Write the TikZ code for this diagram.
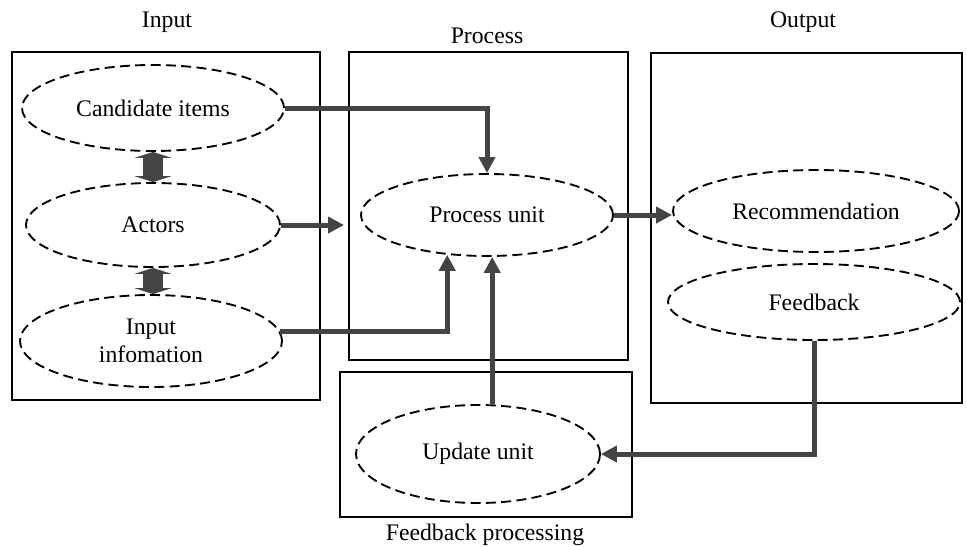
\documentclass[tikz,border=0pt]{standalone}
\usepackage{fontspec}
\setmainfont{Liberation Serif}
\usetikzlibrary{shapes.geometric, arrows.meta, positioning, fit, calc}
\definecolor{flowgray}{HTML}{444444}

\begin{document}
\begin{tikzpicture}[
  x=0.75pt, y=-0.75pt,
  font=\fontsize{17.8pt}{20.5pt}\selectfont,
  frame/.style={draw, line width=1.5pt, inner sep=0pt},
  unit/.style={
    ellipse, draw, dash pattern=on 7.5pt off 4pt, line width=1.4pt,
    inner sep=0pt, align=center,
  },
  conn/.style={draw=flowgray, line width=3.75pt,
    -{Triangle[length=12pt,width=12pt]}},
  link/.style={draw=flowgray, line width=15pt,
    {Triangle[length=4.5pt,width=28pt]}-{Triangle[length=4.5pt,width=28pt]}},
]
  \useasboundingbox (0,0) rectangle (967,546);

  % group frames
  \node[frame, fit={(12,52) (320,400)}] (inbox) {};
  \node[frame, fit={(349,52) (628,360)}] (procbox) {};
  \node[frame, fit={(651,53) (962,403)}] (outbox) {};
  \node[frame, fit={(340,372) (632,517)}] (fbbox) {};

  % group titles
  \node (intitle) at (167,22) {Input};
  \node (proctitle) at (487,36) {Process};
  \node (outtitle) at (803,22) {Output};
  \node (fbtitle) at (485,535) {Feedback processing};

  % units
  \node[unit, minimum width=196.5pt, minimum height=64.5pt] (cand) at (153,108) {Candidate items};
  \node[unit, minimum width=190.5pt, minimum height=63pt] (act) at (153,225) {Actors};
  \node[unit, minimum width=196.5pt, minimum height=69pt] (info) at (151,341) {Input\\infomation};
  \node[unit, minimum width=189pt, minimum height=61.5pt] (proc) at (487,215) {Process unit};
  \node[unit, minimum width=214.5pt, minimum height=61.5pt] (rec) at (816,211) {Recommendation};
  \node[unit, minimum width=219pt, minimum height=57pt] (fb) at (814,302) {Feedback};
  \node[unit, minimum width=183pt, minimum height=73.5pt] (upd) at (478,454) {Update unit};

  % two-way links inside the input group
  \draw[link] (cand.south) -- (act.north);
  \draw[link] (act.south) -- (act.south |- info.north);

  % flows
  \draw[conn] (cand.east) -| (proc.north);
  \draw[conn, shorten >=3pt] (act.east) -- (act.east -| procbox.west);
  \draw[conn] (info.4) -| (proc.225);
  \draw[conn] (upd.74) -- (upd.74 |- proc.south);
  \draw[conn] (proc.east) -- (proc.east -| rec.west);
  \draw[conn] (fb.south) |- (upd.east);
\end{tikzpicture}
\end{document}
